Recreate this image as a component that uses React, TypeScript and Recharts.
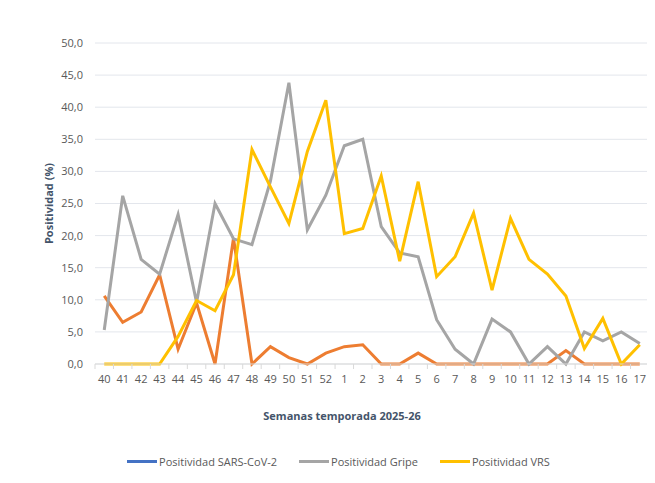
import React from "react";
import {
  LineChart,
  Line,
  XAxis,
  YAxis,
  CartesianGrid,
  Legend,
} from "recharts";

const semanas = [
  "40", "41", "42", "43", "44", "45", "46", "47", "48", "49", "50", "51", "52",
  "1", "2", "3", "4", "5", "6", "7", "8", "9", "10", "11", "12", "13", "14", "15", "16", "17",
];

const sarsCov2 = [
  10.6, 6.5, 8.1, 13.9, 2.3, 9.5, 0, 19.6, 0, 2.7, 1.0, 0, 1.7,
  2.7, 3.0, 0, 0, 1.7, 0, 0, 0, 0, 0, 0, 0, 2.1, 0, 0, 0, 0,
];

const gripe = [
  5.3, 26.2, 16.3, 14.0, 23.3, 9.6, 25.0, 19.5, 18.6, 28.5, 43.8, 20.9, 26.3,
  34.0, 35.0, 21.4, 17.3, 16.7, 6.9, 2.3, 0, 7.0, 5.0, 0, 2.7, 0, 5.0, 3.6, 5.0, 3.2,
];

const vrs = [
  0, 0, 0, 0, 4.3, 9.9, 8.3, 13.9, 33.4, 27.6, 21.9, 33.1, 41.1,
  20.3, 21.1, 29.3, 16.0, 28.4, 13.6, 16.7, 23.5, 11.5, 22.7, 16.3, 14.0, 10.6, 2.4, 7.1, 0, 3.0,
];

const yTicks = [0, 5, 10, 15, 20, 25, 30, 35, 40, 45, 50];

const series = [
  { key: "sars", name: "Positividad SARS-CoV-2", stroke: "#ED7D31", legend: "#4472C4" },
  { key: "gripe", name: "Positividad Gripe", stroke: "#A5A5A5", legend: "#A5A5A5" },
  { key: "vrs", name: "Positividad VRS", stroke: "#FFC000", legend: "#FFC000" },
];

const data = semanas.map((s, i) => ({
  semana: s,
  sars: sarsCov2[i],
  gripe: gripe[i],
  vrs: vrs[i],
}));

const FONT = "'Open Sans', 'Liberation Sans', sans-serif";
const TXT = "#595959";
const TITLE = "#44546A";
const BAND = 554 / semanas.length;

// Tick estilo Excel: marcas entre categorías
const SemanaTick = (props: any) => {
  const { x, y, payload, index } = props;
  const last = index === semanas.length - 1;
  return (
    <g>
      <line x1={x - BAND / 2} x2={x - BAND / 2} y1={y - 11} y2={y - 6} stroke="#D9D9D9" />
      {last && (
        <line x1={x + BAND / 2} x2={x + BAND / 2} y1={y - 11} y2={y - 6} stroke="#D9D9D9" />
      )}
      <text x={x} y={y} dy="0.71em" textAnchor="middle" fill={TXT} fontSize={11} fontFamily={FONT}>
        {payload.value}
      </text>
    </g>
  );
};

const LegendContent = () => (
  <div
    style={{
      display: "flex",
      justifyContent: "center",
      alignItems: "center",
      gap: 22,
      fontFamily: FONT,
      fontSize: 11,
      color: TXT,
      paddingLeft: 28,
    }}
  >
    {series.map((s) => (
      <div key={s.key} style={{ display: "flex", alignItems: "center" }}>
        <span style={{ display: "inline-block", width: 30, height: 3, background: s.legend, marginRight: 2 }} />
        <span>{s.name}</span>
      </div>
    ))}
  </div>
);

export default function App() {
  return (
    <div style={{ margin: -8, width: 655, height: 483, background: "#fff", position: "relative" }}>
      <div style={{ position: "absolute", left: 3, top: 0, width: 1, height: 483, background: "#EDEDED" }} />
      <LineChart
        width={655}
        height={483}
        data={data}
        margin={{ top: 43, right: 6, bottom: 5, left: 0 }}
      >
        <CartesianGrid vertical={false} stroke="#E3E6EC" />
        <XAxis
          dataKey="semana"
          scale="band"
          interval={0}
          height={90}
          tickLine={false}
          tickSize={0}
          tickMargin={11}
          axisLine={{ stroke: "#D9D9D9" }}
          tick={<SemanaTick />}
          label={{
            value: "Semanas temporada 2025-26",
            position: "insideTop",
            offset: 48,
            dx: -30,
            fill: TITLE,
            fontSize: 11,
            fontWeight: 700,
            fontFamily: FONT,
          }}
        />
        <YAxis
          width={95}
          domain={[0, 50]}
          ticks={yTicks}
          interval={0}
          axisLine={false}
          tickLine={false}
          tickSize={0}
          tickMargin={12}
          tickFormatter={(v: number) => v.toFixed(1).replace(".", ",")}
          tick={{ fill: TXT, fontSize: 11, fontFamily: FONT }}
          label={{
            value: "Positividad (%)",
            angle: -90,
            position: "insideLeft",
            offset: 49,
            fill: TITLE,
            fontSize: 11,
            fontWeight: 700,
            fontFamily: FONT,
            style: { textAnchor: "middle" },
          }}
        />
        <Legend verticalAlign="bottom" height={24} content={<LegendContent />} />
        {series.map((s) => (
          <Line
            key={s.key}
            type="linear"
            dataKey={s.key}
            name={s.name}
            stroke={s.stroke}
            strokeWidth={3}
            dot={false}
            activeDot={false}
            isAnimationActive={false}
          />
        ))}
      </LineChart>
    </div>
  );
}
